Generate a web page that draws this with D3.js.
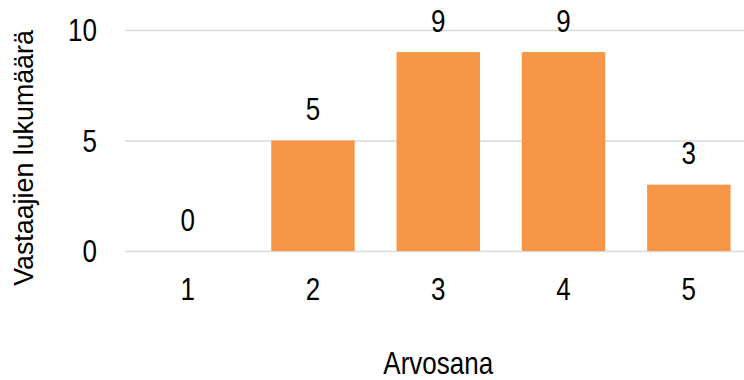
<!DOCTYPE html>
<html>
<head>
<meta charset="utf-8">
<script src="https://cdn.jsdelivr.net/npm/d3@7"></script>
<style>
  html, body { margin: 0; padding: 0; background: #fff; }
  svg { display: block; font-family: "Liberation Sans", Arial, sans-serif; }
</style>
</head>
<body>
<svg id="chart" width="744" height="380"></svg>
<script>
// Grade distribution: number of respondents per grade
const categories = ["1", "2", "3", "4", "5"];
const counts = [0, 5, 9, 9, 3];
const yTicks = [0, 5, 10];
const xTitle = "Arvosana";
const yTitle = "Vastaajien lukumäärä";

const W = 744, H = 380;
const plot = { left: 125, right: 751.5, top: 30, bottom: 251 };
const textStretch = "scale(1,1.18)";
const fontSize = 26;
const barColor = "#f79646";
const gridColor = "#d9d9d9";

const svg = d3.select("#chart");

const x = d3.scaleBand()
  .domain(categories)
  .range([plot.left, plot.right])
  .paddingInner(0.334)
  .paddingOuter(0.167);

const y = d3.scaleLinear()
  .domain([0, 10])
  .range([plot.bottom, plot.top]);

// Horizontal gridlines + value tick labels
const yAxis = svg.append("g")
  .attr("transform", `translate(${plot.left},0)`)
  .call(d3.axisLeft(y).tickValues(yTicks).tickSize(-(W - plot.left)).tickPadding(28));
yAxis.select(".domain").remove();
yAxis.selectAll(".tick line")
  .attr("stroke", gridColor)
  .attr("stroke-width", 1.6);
yAxis.selectAll(".tick text")
  .attr("x", null).attr("dy", null).attr("y", null)
  .attr("transform", `translate(-28,10.5) ${textStretch}`)
  .attr("fill", "#000")
  .attr("font-size", fontSize)
  .attr("font-family", "Liberation Sans, Arial, sans-serif")
  .attr("text-anchor", "end");

// Bars
svg.append("g")
  .selectAll("rect")
  .data(categories.map((c, i) => ({ c, v: counts[i] })))
  .join("rect")
  .attr("x", d => x(d.c))
  .attr("y", d => y(d.v))
  .attr("width", x.bandwidth())
  .attr("height", d => y(0) - y(d.v))
  .attr("fill", barColor);

// Value labels above bars
svg.append("g")
  .selectAll("text")
  .data(categories.map((c, i) => ({ c, v: counts[i] })))
  .join("text")
  .attr("transform", d => `translate(${x(d.c) + x.bandwidth() / 2},${y(d.v) - 20.5}) ${textStretch}`)
  .attr("text-anchor", "middle")
  .attr("font-size", fontSize)
  .attr("fill", "#000")
  .text(d => d.v);

// Category axis
const xAxis = svg.append("g")
  .attr("transform", `translate(0,${plot.bottom})`)
  .call(d3.axisBottom(x).tickSize(0));
xAxis.select(".domain").remove();
xAxis.selectAll(".tick text")
  .attr("y", null).attr("dy", null)
  .attr("transform", `translate(0,49) ${textStretch}`)
  .attr("fill", "#000")
  .attr("font-size", fontSize)
  .attr("font-family", "Liberation Sans, Arial, sans-serif");

// Axis titles
svg.append("text")
  .attr("transform", `translate(${(plot.left + plot.right) / 2},374) ${textStretch}`)
  .attr("text-anchor", "middle")
  .attr("font-size", fontSize)
  .attr("fill", "#000")
  .text(xTitle);

svg.append("text")
  .attr("transform", "translate(32.5,158) rotate(-90)")
  .attr("text-anchor", "middle")
  .attr("font-size", 26.8)
  .attr("fill", "#000")
  .text(yTitle);
</script>
</body>
</html>
